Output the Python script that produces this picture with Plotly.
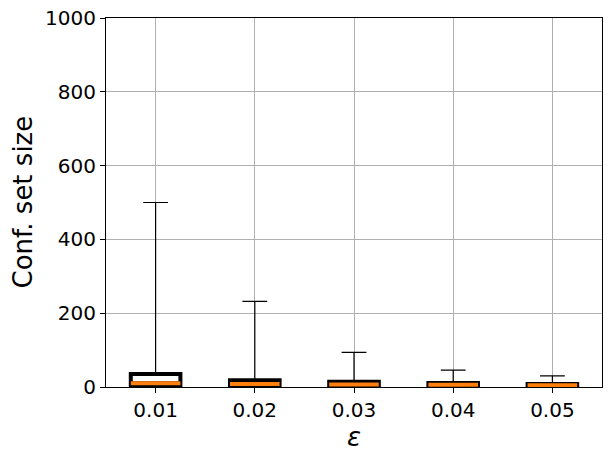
import plotly.graph_objects as go

categories = ["0.01", "0.02", "0.03", "0.04", "0.05"]
lower_whisker = [0, 0, 0, 0, 0]
q1 = [2, 1, 1, 1, 1]
medians = [10, 8, 7, 6, 5]
q3 = [35, 18, 14, 11, 8]
upper_whisker = [500, 232, 94, 46, 30]
y_title = "Conf. set size"
x_title = "<i>ε</i>"

fig = go.Figure()

# whiskers (thin)
fig.add_trace(go.Box(
    x=categories, q1=q1, median=medians, q3=q3,
    lowerfence=lower_whisker, upperfence=upper_whisker,
    width=0.5, whiskerwidth=0.5,
    line=dict(color="black", width=1.2),
    fillcolor="rgba(0,0,0,0)", boxpoints=False,
    hoverinfo="skip", showlegend=False,
))
# box (thick)
fig.add_trace(go.Box(
    x=categories, q1=q1, median=medians, q3=q3,
    lowerfence=q1, upperfence=q3,
    width=0.5, whiskerwidth=0,
    line=dict(color="black", width=4),
    fillcolor="white", boxpoints=False,
    hoverinfo="skip", showlegend=False,
))
# median (orange)
fig.add_trace(go.Box(
    x=categories, q1=medians, median=medians, q3=medians,
    lowerfence=medians, upperfence=medians,
    width=0.5, whiskerwidth=0,
    line=dict(color="#ff7f0e", width=4),
    fillcolor="rgba(0,0,0,0)", boxpoints=False,
    hoverinfo="skip", showlegend=False,
))

axis_common = dict(
    showline=True, linecolor="black", linewidth=1, mirror=True,
    ticks="outside", ticklen=5, tickwidth=1, tickcolor="black",
    showgrid=True, gridcolor="#b0b0b0", gridwidth=1,
    tickfont=dict(family="DejaVu Sans", size=20, color="black"),
    zeroline=False, ticklabeloverflow="allow", automargin=False,
)

fig.update_layout(
    width=612, height=460,
    margin=dict(l=106, r=10, t=18, b=73),
    paper_bgcolor="white", plot_bgcolor="white",
    boxmode="overlay",
    font=dict(family="DejaVu Sans", color="black"),
    xaxis=dict(
        **axis_common,
        type="category", range=[-0.5, 4.5],
        title=dict(text=x_title, font=dict(family="DejaVu Sans", size=26), standoff=4),
    ),
    yaxis=dict(
        **axis_common,
        range=[0, 1000], tickvals=[0, 200, 400, 600, 800, 1000],
    ),
    annotations=[dict(
        text=y_title, textangle=-90,
        xref="paper", yref="paper", x=0, y=0.5,
        xanchor="center", yanchor="middle",
        xshift=-84, showarrow=False,
        font=dict(family="DejaVu Sans", size=26, color="black"),
    )],
)

fig.write_html(
    "out.html",
    config={"displayModeBar": False, "staticPlot": True},
    post_script="document.body.style.margin='0px';document.body.style.overflow='hidden';",
)
